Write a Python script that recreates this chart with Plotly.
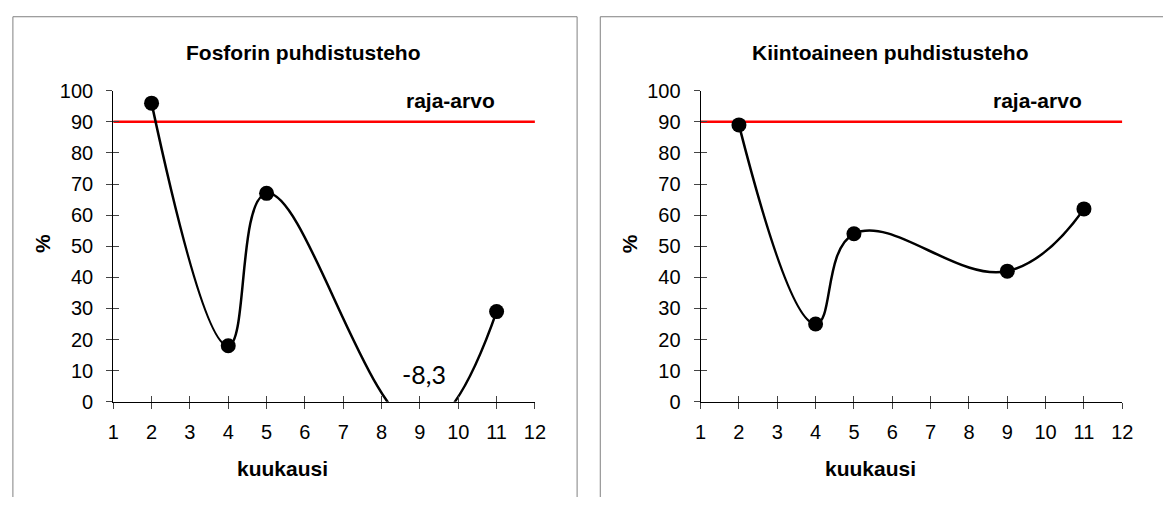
import plotly.graph_objects as go

# Monthly purification efficiency (%) for two parameters
months = [2, 4, 5, 9, 11]
phosphorus = [96, 18, 67, -8.3, 29]
solids = [89, 25, 54, 42, 62]
limit_value = 90
limit_span = [1, 12]

x_ticks = list(range(1, 13))
y_ticks = list(range(0, 101, 10))

titles = ["Fosforin puhdistusteho", "Kiintoaineen puhdistusteho"]
x_title = "kuukausi"
y_title = "%"
limit_label = "raja-arvo"

W, H = 1174, 508
FONT = "Liberation Sans, Arial, sans-serif"
PANEL_SHIFT = 596


def px(x):
    return x / W


def py(y):
    return 1 - y / H


fig = go.Figure()

series = [phosphorus, solids]
for i, values in enumerate(series):
    xa = "x" if i == 0 else "x2"
    ya = "y" if i == 0 else "y2"
    # threshold line
    fig.add_trace(go.Scatter(
        x=limit_span, y=[limit_value, limit_value], mode="lines",
        line=dict(color="#ff0000", width=2.5), xaxis=xa, yaxis=ya,
        hoverinfo="skip", showlegend=False))
    # smoothed measurement curve
    fig.add_trace(go.Scatter(
        x=months, y=values, mode="lines+markers",
        line=dict(color="black", width=2.5, shape="spline", smoothing=1.2),
        marker=dict(color="black", size=15),
        xaxis=xa, yaxis=ya, showlegend=False, cliponaxis=True))

axis_common = dict(
    showgrid=False, zeroline=False, showline=True, linecolor="black",
    linewidth=1, ticks="outside", ticklen=6, tickcolor="#444", tickwidth=1,
    tickfont=dict(family=FONT, size=20, color="black"),
)

layout = dict(
    width=W, height=H, margin=dict(l=0, r=0, t=0, b=0),
    paper_bgcolor="white", plot_bgcolor="white", showlegend=False,
)

for i in range(2):
    off = PANEL_SHIFT * i
    xd = [px(108.8 + off), px(536.7 + off)]
    yd = [py(408.5), py(83.3)]
    xn = "xaxis" if i == 0 else "xaxis2"
    yn = "yaxis" if i == 0 else "yaxis2"
    xr = "x" if i == 0 else "x2"
    yr = "y" if i == 0 else "y2"
    layout[xn] = dict(axis_common, domain=xd, range=[1, 12], tickvals=x_ticks,
                      anchor=yr, ticklabelstandoff=6)
    layout[yn] = dict(axis_common, domain=yd, range=[0, 100], tickvals=y_ticks,
                      anchor=xr, ticklabelstandoff=9)
    # companion axes carrying the inner half of the crossing tick marks
    xo = "xaxis%d" % (3 + 2 * i)
    yo = "yaxis%d" % (3 + 2 * i)
    layout[xo] = dict(overlaying=xr, anchor="y%d" % (3 + 2 * i), range=[1, 12],
                      tickvals=x_ticks, ticks="inside", ticklen=6, tickcolor="#444",
                      showticklabels=False, showline=False, showgrid=False,
                      zeroline=False)
    layout[yo] = dict(overlaying=yr, anchor="x%d" % (3 + 2 * i), range=[0, 100],
                      tickvals=y_ticks, ticks="inside", ticklen=6, tickcolor="#444",
                      showticklabels=False, showline=False, showgrid=False,
                      zeroline=False)

fig.update_layout(**layout)

for i in range(2):
    fig.add_trace(go.Scatter(x=[None], y=[None], xaxis="x%d" % (3 + 2 * i),
                             yaxis="y%d" % (3 + 2 * i), showlegend=False,
                             hoverinfo="skip"))

annotations = []
shapes = []
bold = dict(family=FONT, size=21, color="black", weight="bold")
frame = dict(type="line", xref="paper", yref="paper",
             line=dict(color="#808080", width=1))
for i in range(2):
    off = PANEL_SHIFT * i
    xr = "x" if i == 0 else "x2"
    yr = "y" if i == 0 else "y2"
    annotations.append(dict(text=titles[i], x=px(301.5 + off), y=py(43),
                            xref="paper", yref="paper", showarrow=False,
                            xanchor="center", yanchor="middle", font=bold))
    annotations.append(dict(text=x_title, x=px(281 + off), y=py(478),
                            xref="paper", yref="paper", showarrow=False,
                            xanchor="center", yanchor="middle", font=bold))
    annotations.append(dict(text=y_title, x=px(37 + off), y=py(243),
                            xref="paper", yref="paper", showarrow=False,
                            textangle=-90, xanchor="center", yanchor="middle",
                            font=bold))
    annotations.append(dict(text=limit_label, x=9.8, y=limit_value, xref=xr,
                            yref=yr, yshift=21, showarrow=False,
                            xanchor="center", yanchor="middle", font=bold))

# panel frames: the second frame runs past the right edge of the page
shapes.append(dict(frame, x0=px(7), x1=px(579.5), y0=py(6), y1=py(6)))
shapes.append(dict(frame, x0=px(7), x1=px(7), y0=py(6), y1=0))
shapes.append(dict(frame, x0=px(579.5), x1=px(579.5), y0=py(6), y1=0))
shapes.append(dict(frame, x0=px(603), x1=1, y0=py(6), y1=py(6)))
shapes.append(dict(frame, x0=px(603), x1=px(603), y0=py(6), y1=0))

# value label of the month whose efficiency falls below the axis
low_idx = phosphorus.index(min(phosphorus))
annotations.append(dict(
    text=f"{phosphorus[low_idx]:.1f}".replace(".", ","),
    x=months[low_idx], y=0, xref="x", yref="y", xshift=4, yshift=28,
    showarrow=False, xanchor="center", yanchor="middle",
    font=dict(family="Lato, Open Sans, sans-serif", size=25, color="black")))

fig.update_layout(annotations=annotations, shapes=shapes)

# page without the default body margin so the figure fills the window exactly
fig.write_html(
    "out.html",
    post_script="document.body.style.margin='0';"
                "document.body.style.overflow='hidden';",
)
